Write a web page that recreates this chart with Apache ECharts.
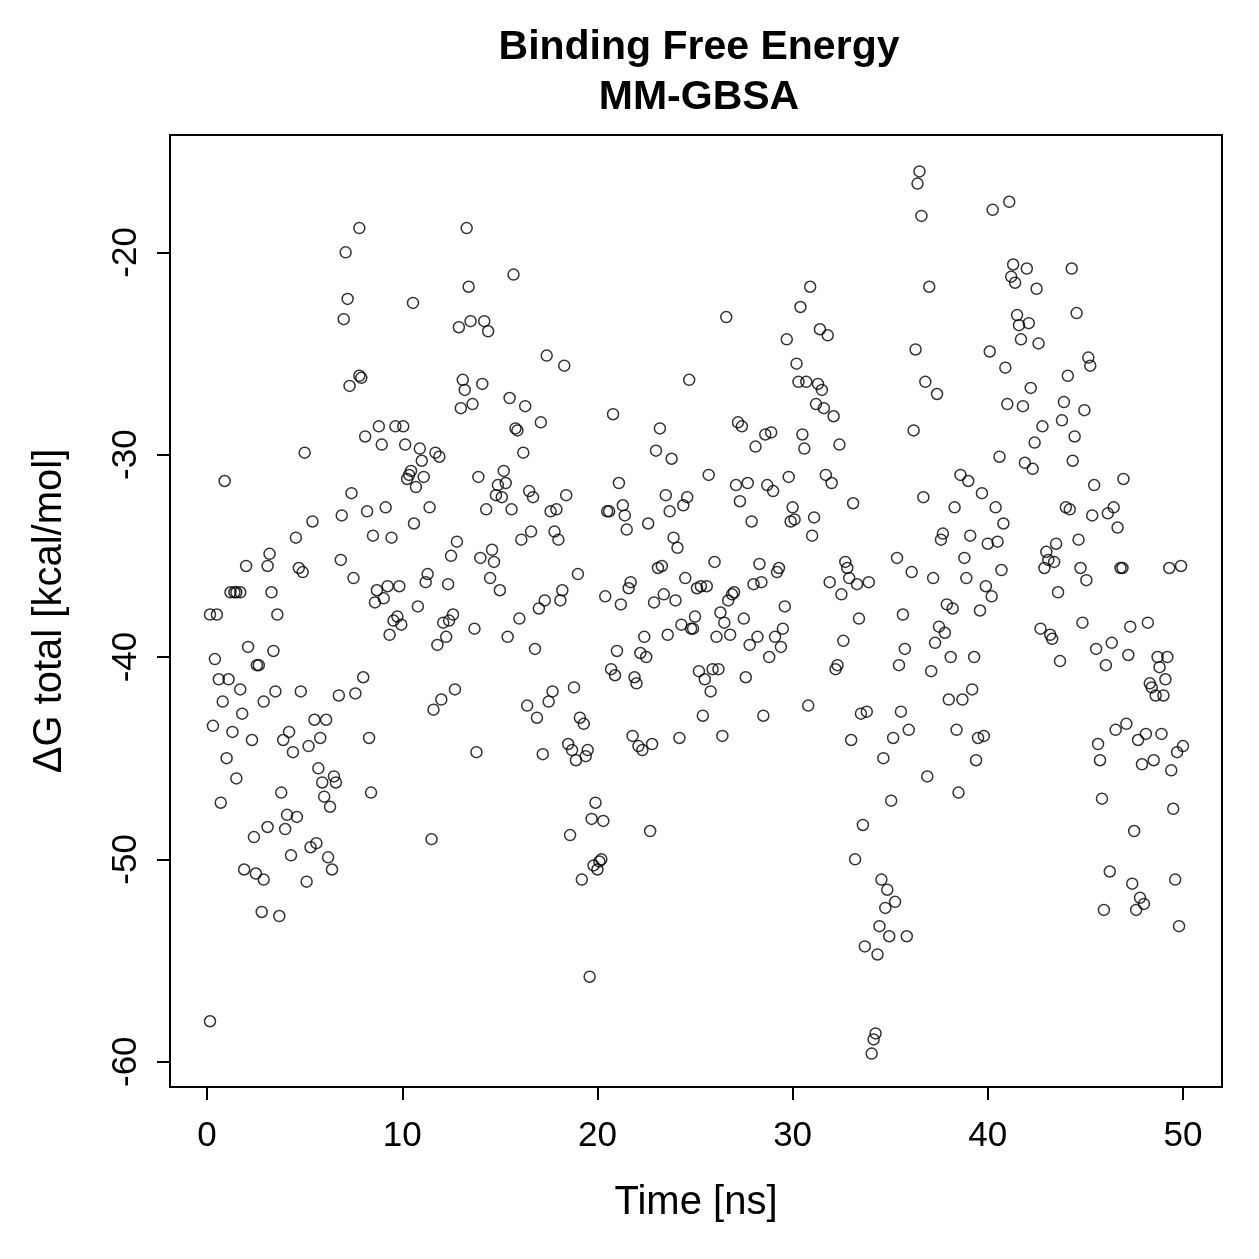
<!DOCTYPE html>
<html>
<head>
<meta charset="utf-8">
<script src="https://cdn.jsdelivr.net/npm/echarts@6/dist/echarts.min.js"></script>
<style>html,body{margin:0;padding:0;background:#fff}#c{width:1259px;height:1259px}</style>
</head>
<body>
<div id="c"></div>
<script>
const titleLines = ["Binding Free Energy", "MM-GBSA"];
const xLabel = "Time [ns]";
const yLabel = "ΔG total [kcal/mol]";
const xTicks = [0, 10, 20, 30, 40, 50];
const yTicks = [-60, -50, -40, -30, -20];

const timeNs = [
0.15,0.15,0.5,0.3,0.4,0.6,0.8,0.9,0.7,1.0,1.1,1.2,1.4,1.5,1.7,1.3,1.5,1.7,1.8,2.0,2.1,1.9,2.3,2.4,2.5,2.55,2.65,2.8,2.9,2.9,
3.1,3.1,3.2,3.3,3.4,3.5,3.6,3.7,3.8,3.9,4.0,4.1,4.2,4.3,4.4,4.55,4.6,4.7,4.8,4.9,
5.0,5.1,5.2,5.4,5.3,5.5,5.6,5.7,5.8,5.9,6.0,6.1,6.2,6.3,6.4,6.5,6.6,6.75,6.85,6.9,
7.0,7.1,7.2,7.3,7.4,7.5,7.6,7.8,7.8,7.9,8.0,8.1,8.2,8.3,8.4,8.5,8.6,8.7,8.8,8.95,
9.05,9.15,9.25,9.35,9.45,9.55,9.65,9.75,9.85,9.95,10.05,10.15,10.25,10.35,10.45,10.55,10.6,10.7,10.8,10.9,
11.0,11.1,11.2,11.3,11.4,11.5,11.6,11.7,11.8,11.9,12.0,12.1,12.25,12.35,12.4,12.5,12.6,12.7,12.8,12.9,
13.0,13.1,13.2,13.3,13.4,13.5,13.6,13.7,13.8,13.9,14.0,14.1,14.2,14.3,14.4,14.5,14.6,14.7,14.8,14.9,
15.0,15.1,15.2,15.3,15.4,15.5,15.6,15.7,15.8,15.9,16.0,16.1,16.2,16.3,16.4,16.5,16.6,16.7,16.8,16.9,
17.0,17.1,17.2,17.3,17.4,17.5,17.6,17.7,17.8,17.9,18.0,18.1,18.2,18.3,18.4,18.5,18.6,18.7,18.8,18.9,
19.0,19.1,19.2,19.3,19.4,19.5,19.6,19.7,19.8,19.9,20.0,20.1,20.2,20.3,20.4,20.5,20.6,20.7,20.8,20.9,
21.0,21.1,21.2,21.3,21.4,21.5,21.6,21.7,21.8,21.9,22.0,22.1,22.2,22.3,22.4,22.5,22.6,22.7,22.8,22.9,
23.0,23.1,23.2,23.3,23.4,23.5,23.6,23.7,23.8,23.9,24.0,24.1,24.2,24.3,24.4,24.5,24.6,24.7,24.8,24.9,
25.0,25.1,25.2,25.3,25.4,25.5,25.6,25.7,25.8,25.9,26.0,26.1,26.2,26.3,26.4,26.5,26.6,26.7,26.8,26.9,
27.0,27.1,27.2,27.3,27.4,27.5,27.6,27.7,27.8,27.9,28.0,28.1,28.2,28.3,28.4,28.5,28.6,28.7,28.8,28.9,
29.0,29.1,29.2,29.3,29.4,29.5,29.6,29.7,29.8,29.9,30.0,30.1,30.2,30.3,30.4,30.5,30.6,30.7,30.8,30.9,
31.0,31.1,31.2,31.3,31.4,31.5,31.6,31.7,31.8,31.9,32.0,32.1,32.2,32.3,32.4,32.5,32.6,32.7,32.8,32.9,
33.0,33.1,33.2,33.3,33.4,33.5,33.6,33.7,33.8,33.9,34.05,34.15,34.25,34.35,34.45,34.55,34.65,34.75,34.85,34.95,
35.05,35.15,35.25,35.35,35.45,35.55,35.65,35.75,35.85,35.95,36.1,36.2,36.3,36.4,36.5,36.6,36.7,36.8,36.9,37.0,
37.1,37.2,37.3,37.4,37.5,37.6,37.7,37.8,37.9,38.0,38.1,38.2,38.3,38.4,38.5,38.6,38.7,38.8,38.9,39.0,
39.1,39.2,39.3,39.4,39.5,39.6,39.7,39.8,39.9,40.0,40.1,40.2,40.25,40.4,40.5,40.6,40.7,40.8,40.9,41.0,
41.1,41.2,41.3,41.4,41.5,41.6,41.7,41.8,41.9,42.0,42.1,42.2,42.3,42.4,42.5,42.6,42.7,42.8,42.9,43.0,
43.1,43.2,43.3,43.4,43.5,43.6,43.7,43.8,43.9,44.0,44.1,44.2,44.3,44.35,44.45,44.55,44.65,44.75,44.85,44.95,
45.05,45.15,45.25,45.35,45.45,45.55,45.65,45.75,45.85,45.95,46.05,46.15,46.25,46.35,46.45,46.55,46.65,46.8,46.9,46.95,
47.1,47.2,47.3,47.4,47.5,47.6,47.7,47.8,47.9,48.0,48.1,48.2,48.3,48.4,48.5,48.6,48.7,48.8,48.9,49.0,
49.1,49.2,49.3,49.4,49.5,49.6,49.7,49.8,49.9,50.0
];

const dG = [
-58.0,-37.9,-37.9,-43.4,-40.1,-41.1,-42.2,-31.3,-47.2,-45.0,-41.1,-36.8,-36.8,-36.8,-36.8,-43.7,-46.0,-41.6,-42.8,-35.5,-39.5,-50.5,-44.1,-48.9,-50.7,-40.4,-40.4,-52.6,-51.0,-42.2,
-35.5,-48.4,-34.9,-36.8,-39.7,-41.7,-37.9,-52.8,-46.7,-44.1,-48.5,-47.8,-43.7,-49.8,-44.7,-34.1,-47.9,-35.6,-41.7,-35.8,
-29.9,-51.1,-44.4,-33.3,-49.4,-43.1,-49.2,-45.5,-44.0,-46.2,-46.9,-43.1,-49.9,-47.4,-50.5,-45.9,-46.2,-41.9,-35.2,-33.0,
-23.3,-20.0,-22.3,-26.6,-31.9,-36.1,-41.8,-18.8,-26.1,-26.2,-41.0,-29.1,-32.8,-44.0,-46.7,-34.0,-37.3,-36.7,-28.6,-29.5,
-37.1,-32.6,-36.5,-38.9,-34.1,-38.2,-28.6,-38.0,-36.5,-38.4,-28.6,-29.5,-31.2,-31.0,-30.8,-22.5,-33.4,-31.6,-37.5,-29.7,
-30.3,-31.1,-36.3,-35.9,-32.6,-49.0,-42.6,-29.9,-39.4,-30.1,-42.1,-38.3,-39.0,-36.4,-38.2,-35.0,-37.9,-41.6,-34.3,-23.7,
-27.7,-26.3,-26.8,-18.8,-21.7,-23.4,-27.5,-38.6,-44.7,-31.1,-35.1,-26.5,-23.4,-32.7,-23.9,-36.1,-34.7,-35.3,-32.0,-31.5,
-36.7,-32.1,-30.8,-31.4,-39.0,-27.2,-32.7,-21.1,-28.7,-28.8,-38.1,-34.2,-29.9,-27.6,-42.4,-31.8,-33.8,-32.1,-39.6,-43.0,
-37.6,-28.4,-44.8,-37.2,-25.1,-42.2,-32.8,-41.7,-33.8,-32.7,-34.2,-37.2,-36.7,-25.6,-32.0,-44.3,-48.8,-44.6,-41.5,-45.1,
-35.9,-43.0,-51.0,-43.3,-44.9,-44.6,-55.8,-48.0,-50.3,-47.2,-50.5,-50.1,-50.0,-48.1,-37.0,-32.8,-32.8,-40.6,-28.0,-40.9,
-39.7,-31.4,-37.4,-32.5,-33.0,-33.7,-36.6,-36.3,-43.9,-41.0,-41.3,-44.4,-39.8,-44.6,-39.0,-40.0,-33.4,-48.6,-44.3,-37.3,
-29.8,-35.6,-28.7,-35.5,-36.9,-32.0,-38.9,-32.8,-30.2,-34.1,-37.2,-34.6,-44.0,-38.4,-32.5,-36.1,-32.1,-26.3,-38.6,-38.6,
-38.0,-36.6,-40.7,-36.5,-42.9,-41.1,-36.5,-31.0,-41.7,-40.6,-35.3,-39.0,-40.6,-37.8,-43.9,-38.3,-23.2,-37.2,-38.9,-36.9,
-36.8,-31.5,-28.4,-32.3,-28.6,-38.1,-41.0,-31.4,-39.4,-33.3,-36.4,-29.6,-39.0,-35.4,-36.3,-42.9,-29.0,-31.5,-40.0,-28.9,
-31.8,-39.0,-35.8,-35.6,-39.5,-38.6,-37.5,-24.3,-31.1,-33.3,-32.6,-33.2,-25.5,-26.4,-22.7,-29.0,-29.7,-26.4,-42.4,-21.7,
-34.0,-33.1,-27.5,-26.5,-23.8,-26.8,-27.7,-31.0,-24.1,-36.3,-31.4,-28.1,-40.6,-40.4,-29.5,-36.9,-39.2,-35.3,-35.6,-36.1,
-44.1,-32.4,-50.0,-36.4,-38.1,-42.8,-48.3,-54.3,-42.7,-36.3,-59.6,-58.9,-58.6,-54.7,-53.3,-51.0,-45.0,-52.4,-51.5,-53.8,
-47.1,-44.0,-52.1,-35.1,-40.4,-42.7,-37.9,-39.6,-53.8,-43.6,-35.8,-28.8,-24.8,-16.6,-16.0,-18.2,-32.1,-26.4,-45.9,-21.7,
-40.7,-36.1,-39.3,-27.0,-38.5,-34.2,-33.9,-38.8,-37.4,-42.1,-40.0,-37.6,-32.6,-43.6,-46.7,-31.0,-42.1,-35.1,-36.1,-31.3,
-34.0,-41.6,-40.0,-45.1,-44.0,-37.7,-31.9,-43.9,-36.5,-34.4,-24.9,-37.0,-17.9,-32.6,-34.3,-30.1,-35.7,-33.4,-25.7,-27.5,
-17.5,-21.2,-20.6,-21.5,-23.1,-23.6,-24.3,-27.6,-30.4,-20.8,-23.5,-26.7,-30.7,-29.4,-21.8,-24.5,-38.6,-28.6,-35.6,-34.8,
-35.2,-38.9,-39.1,-35.3,-34.4,-36.8,-40.2,-28.3,-27.4,-32.6,-26.1,-32.7,-20.8,-30.3,-29.1,-23.0,-34.2,-35.6,-38.3,-27.8,
-36.2,-25.2,-25.6,-33.0,-31.5,-39.6,-44.3,-45.1,-47.0,-52.5,-40.4,-32.9,-50.6,-39.3,-32.6,-43.6,-33.6,-35.6,-35.6,-31.2,
-43.3,-39.9,-38.5,-51.2,-48.6,-52.5,-44.1,-51.9,-45.3,-52.2,-43.8,-38.3,-41.3,-41.5,-45.1,-41.9,-40.0,-40.5,-43.8,-41.9,
-41.1,-40.0,-35.6,-45.6,-47.5,-51.0,-44.7,-53.3,-35.5,-44.4
];

const points = timeNs.map((t, i) => [t, dG[i]]);
const FONT = '"Liberation Sans", Arial, Helvetica, sans-serif';

const chart = echarts.init(document.getElementById('c'), null, {renderer: 'canvas'});
chart.setOption({
  animation: false,
  backgroundColor: '#ffffff',
  title: {
    text: titleLines.join('\n'),
    left: 694, top: 18, textAlign: 'center',
    textStyle: {fontFamily: FONT, fontWeight: 'bold', fontSize: 41, lineHeight: 50, color: '#000'}
  },
  grid: {left: 170, right: 37, top: 135, bottom: 172, show: true, borderColor: '#000', borderWidth: 2, backgroundColor: 'transparent'},
  xAxis: {
    type: 'value', min: -1.9, max: 52,
    name: xLabel, nameLocation: 'middle', nameGap: 96,
    nameTextStyle: {fontFamily: FONT, fontSize: 40, color: '#000'},
    axisLine: {show: false, onZero: false},
    axisTick: {show: true, length: 13, inside: false, customValues: xTicks, lineStyle: {color: '#000', width: 2}},
    axisLabel: {customValues: xTicks, margin: 32, fontFamily: FONT, fontSize: 35, color: '#000'},
    splitLine: {show: false}
  },
  yAxis: {
    type: 'value', min: -61.25, max: -14.2,
    name: yLabel, nameLocation: 'middle', nameGap: 100, nameRotate: 90,
    nameTextStyle: {fontFamily: FONT, fontSize: 40, color: '#000'},
    axisLine: {show: false, onZero: false},
    axisTick: {show: true, length: 13, inside: false, customValues: yTicks, lineStyle: {color: '#000', width: 2}},
    axisLabel: {customValues: yTicks, margin: 26, rotate: 90, fontFamily: FONT, fontSize: 35, color: '#000'},
    splitLine: {show: false}
  },
  series: [{
    type: 'scatter',
    data: points,
    symbol: 'circle',
    symbolSize: 11,
    itemStyle: {color: 'rgba(255,255,255,0)', borderColor: '#000', borderWidth: 1.5},
    emphasis: {disabled: true}
  }]
});
</script>
</body>
</html>
